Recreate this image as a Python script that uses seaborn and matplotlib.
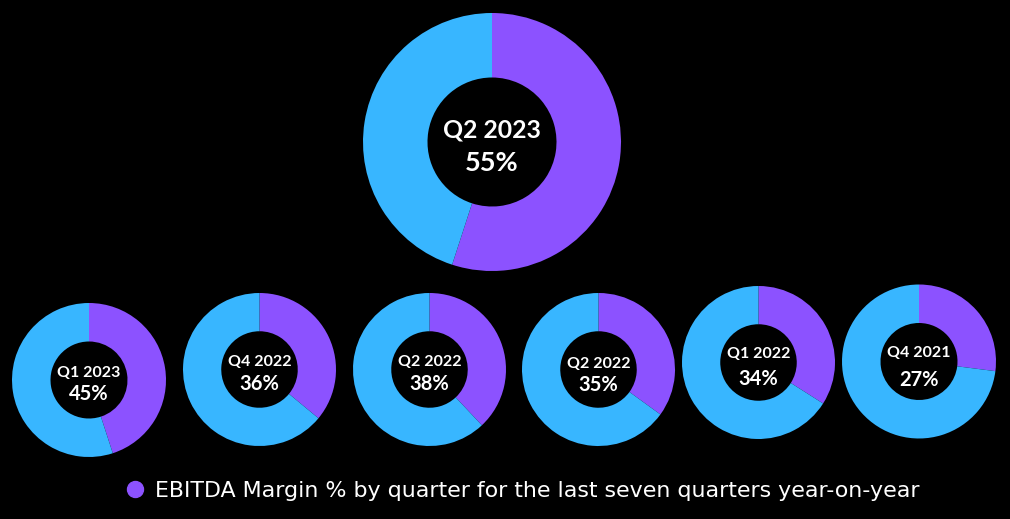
import matplotlib
matplotlib.use("Agg")
import matplotlib.pyplot as plt
from matplotlib.lines import Line2D
import seaborn as sns

# ---- data ----
quarters = ["Q2 2023", "Q1 2023", "Q4 2022", "Q2 2022", "Q2 2022", "Q1 2022", "Q4 2021"]
ebitda_margin = [55, 45, 36, 38, 35, 34, 27]
legend_label = "EBITDA Margin % by quarter for the last seven quarters year-on-year"

# ---- style ----
sns.set_theme(style="white")
plt.rcParams["font.family"] = ["Lato", "DejaVu Sans"]
purple, blue = "#8C52FF", "#38B6FF"
palette = sns.color_palette([purple, blue])

W, H = 1010, 519
fig = plt.figure(figsize=(W / 100, H / 100), dpi=100, facecolor="black")
ax = fig.add_axes([0, 0, 1, 1])
ax.set_facecolor("black")

# layout: (center x px, center y px from top, radius px, title size, value size, dy1, dy2)
layout = [
    (492, 142, 129, 17.8, 19.5, -12, 21),
    (89, 380, 77, 11.5, 14.5, -7, 14),
    (259.5, 369.5, 76.5, 11.5, 14.5, -7, 15),
    (429.5, 369.5, 76.5, 11.5, 14.5, -7, 15),
    (598.5, 369.5, 76.5, 11.5, 14.5, -6, 15.5),
    (758.5, 362.5, 76.5, 11.5, 14.5, -9, 16.5),
    (919, 361.5, 77, 11.5, 14.5, -8.5, 18),
]

for q, m, (cx, cy, r, fs1, fs2, d1, d2) in zip(quarters, ebitda_margin, layout):
    yc = H - cy
    ax.pie([m, 100 - m], colors=palette, startangle=90, counterclock=False,
           center=(cx, yc), radius=r,
           wedgeprops=dict(width=r * 0.50, edgecolor="none", linewidth=0))
    ax.text(cx, yc - d1, q, color="white", fontsize=fs1, fontweight="bold",
            ha="center", va="center")
    ax.text(cx, yc - d2, f"{m}%", color="white", fontsize=fs2, fontweight="bold",
            ha="center", va="center")

ax.set_xlim(0, W)
ax.set_ylim(0, H)
ax.set_aspect("equal")
ax.axis("off")

handle = Line2D([], [], marker="o", linestyle="none", markersize=11.5,
                markerfacecolor=purple, markeredgecolor=purple)
leg = fig.legend([handle], [legend_label], loc="center", bbox_to_anchor=(522 / W, 1 - 491 / H),
                 frameon=False, handletextpad=0.45, handlelength=0.9,
                 labelcolor="white",
                 prop=dict(family=["DejaVu Sans"], size=15.9))

fig.savefig("out.png", dpi=100, facecolor="black")
